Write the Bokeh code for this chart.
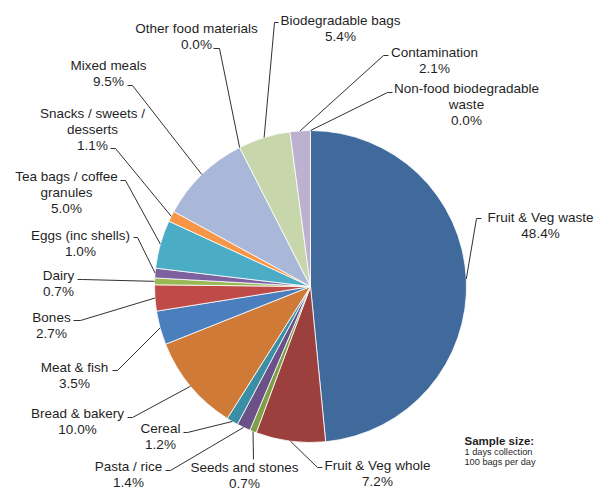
from bokeh.plotting import figure
from bokeh.models import Range1d, ColumnDataSource
from bokeh.core.properties import value
from bokeh.embed import file_html
from bokeh.resources import INLINE
import math

# ---- data ----
categories = ["Fruit & Veg waste", "Fruit & Veg whole", "Seeds and stones", "Pasta / rice",
              "Cereal", "Bread & bakery", "Meat & fish", "Bones", "Dairy", "Eggs (inc shells)",
              "Tea bags / coffee\ngranules", "Snacks / sweets /\ndesserts", "Mixed meals",
              "Other food materials", "Biodegradable bags", "Contamination",
              "Non-food biodegradable\nwaste"]
values = [48.4, 7.2, 0.7, 1.4, 1.2, 10.0, 3.5, 2.7, 0.7, 1.0, 5.0, 1.1, 9.5, 0.0, 5.4, 2.1, 0.0]
colors = ["#416A9C", "#9C403E", "#7E9E47", "#6A5188", "#3A8FA4", "#CF7B37", "#4A7EBC",
          "#BE4B48", "#98B954", "#7D60A0", "#4BACC6", "#F79646", "#A9B8D8",
          "#D0D0D0", "#C7D7AB", "#BDB1D0", "#E0E0E0"]
sample_title = "Sample size:"
sample_lines = ["1 days collection", "100 bags per day"]

# ---- layout (pixel positions, y measured from top) ----
W, H = 597, 490
CX, CY, R = 310, 286, 156
label_pos = [(540, 217), (377, 465), (244, 467), (128, 466), (160, 428), (77, 413),
             (74, 367), (51, 317), (58, 275), (80, 235), (66, 176), (92, 113),
             (108, 65), (196, 28), (340, 20), (434, 52), (466, 88)]
stubs = [((481, 218), (476, 218)), ((322, 467), (317, 467)), ((253, 459), (253, 459)),
         ((165, 470), (170, 470)), ((183, 432), (187, 432)), ((127, 417), (132, 417)),
         ((112, 370), (117, 370)), ((73, 320), (80, 320)), ((77, 279), (82, 279)),
         ((133, 237), (137, 237)), ((120, 180), (125, 180)), ((110, 148), (115, 148)),
         ((127, 85), (132, 85)), ((213, 48), (219, 48)), ((278, 22), (274, 22)),
         ((388, 55), (383, 55)), ((392, 92), (387, 92))]
LINE_H = 16

def fy(y):
    return H - y

p = figure(width=W, height=H, x_range=Range1d(0, W), y_range=Range1d(0, H),
           output_backend="svg", toolbar_location=None, min_border=0)
p.axis.visible = False
p.grid.visible = False
p.outline_line_color = None
p.background_fill_color = "white"

total = sum(values)
starts, ends, wcols = [], [], []
mids = []
cum = 0.0
for v, c in zip(values, colors):
    a0 = math.pi / 2 - 2 * math.pi * cum / total
    cum += v
    a1 = math.pi / 2 - 2 * math.pi * cum / total
    mids.append((a0 + a1) / 2)
    if v > 0:
        starts.append(a1)
        ends.append(a0)
        wcols.append(c)

p.wedge(x=CX, y=fy(CY), radius=R, start_angle=starts, end_angle=ends,
        fill_color=wcols, line_color="white", line_width=0.8)

# leader lines
xs, ys = [], []
for (s0, s1), m in zip(stubs, mids):
    px = CX + R * math.cos(m)
    py = fy(CY) + R * math.sin(m)
    xs.append([s0[0], s1[0], px])
    ys.append([fy(s0[1]), fy(s1[1]), py])
p.multi_line(xs=xs, ys=ys, line_color="#1a1a1a", line_width=0.9)

# labels
tx, ty, tt = [], [], []
for name, v, (lx, ly) in zip(categories, values, label_pos):
    lines = name.split("\n") + ["%.1f%%" % v]
    for i, ln in enumerate(lines):
        tx.append(lx)
        ty.append(fy(ly + i * LINE_H))
        tt.append(ln)
p.text(x=tx, y=ty, text=tt, text_align="center", text_baseline="middle",
       text_font=value("Liberation Sans"), text_font_size="13.5px", text_color="#1f1f1f")

p.text(x=[464], y=[fy(440)], text=[sample_title], text_align="left", text_baseline="middle",
       text_font=value("Liberation Sans"), text_font_size="11.5px", text_font_style="bold",
       text_color="#1f1f1f")
p.text(x=[464, 464], y=[fy(451), fy(461)], text=sample_lines, text_align="left",
       text_baseline="middle", text_font=value("Liberation Sans"), text_font_size="9.2px",
       text_color="#1f1f1f")

open("out.html", "w").write(file_html(p, INLINE))
